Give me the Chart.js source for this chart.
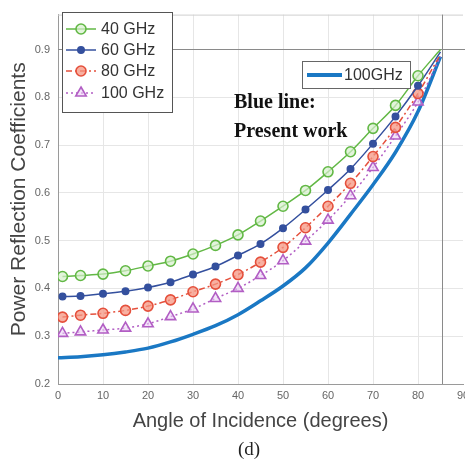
<!DOCTYPE html>
<html>
<head>
<meta charset="utf-8">
<script src="https://cdn.jsdelivr.net/npm/chart.js@4.4.0/dist/chart.umd.min.js"></script>
<style>
  html, body { margin: 0; padding: 0; background: #fff; overflow: hidden; }
  #wrap { width: 480px; height: 464px; }
</style>
</head>
<body>
<div id="wrap"><canvas id="chart" width="480" height="464"></canvas></div>
<script>
// marker angles (degrees) for the simulated curves
const angles = [1, 5, 10, 15, 20, 25, 30, 35, 40, 45, 50, 55, 60, 65, 70, 75, 80, 85];
const ghz40 = [0.425, 0.427, 0.430, 0.437, 0.447, 0.457, 0.472, 0.490, 0.512, 0.541, 0.572, 0.605, 0.644, 0.686, 0.735, 0.783, 0.845, 0.900];
const ghz60 = [0.383, 0.384, 0.389, 0.394, 0.402, 0.413, 0.429, 0.446, 0.469, 0.493, 0.526, 0.565, 0.606, 0.650, 0.703, 0.760, 0.824, 0.895];
const ghz80 = [0.340, 0.344, 0.348, 0.354, 0.363, 0.376, 0.393, 0.409, 0.429, 0.455, 0.486, 0.527, 0.572, 0.620, 0.676, 0.737, 0.808, 0.890];
const ghz100 = [0.306, 0.309, 0.313, 0.317, 0.326, 0.341, 0.357, 0.379, 0.400, 0.427, 0.458, 0.499, 0.543, 0.594, 0.653, 0.719, 0.790, 0.885];

// present work, 100 GHz
const presentAngles = [0, 5, 10, 15, 20, 25, 30, 35, 40, 45, 50, 55, 60, 65, 70, 75, 80, 85];
const presentWork = [0.255, 0.257, 0.261, 0.267, 0.275, 0.288, 0.304, 0.322, 0.345, 0.374, 0.405, 0.443, 0.495, 0.555, 0.617, 0.685, 0.770, 0.885];

const xTicks = [0, 10, 20, 30, 40, 50, 60, 70, 80, 90];
const yTicks = [0.2, 0.3, 0.4, 0.5, 0.6, 0.7, 0.8, 0.9];

const series = [
    { label: '40 GHz', data: ghz40, color: '#62b845', fill: 'rgba(215,240,205,0.7)', style: 'circle', radius: 5, dash: [] },
    { label: '60 GHz', data: ghz60, color: '#34509e', fill: '#34509e', style: 'circle', radius: 3.2, dash: [] },
    { label: '80 GHz', data: ghz80, color: '#e5503c', fill: 'rgba(245,150,130,0.75)', style: 'circle', radius: 5, dash: [6, 3, 2, 3] },
    { label: '100 GHz', data: ghz100, color: '#b25ec4', fill: 'rgba(235,210,245,0.6)', style: 'triangle', radius: 6, dash: [2, 3] }
];

const datasets = series.map(s => ({
    label: s.label,
    data: angles.map((a, i) => ({ x: a, y: s.data[i] })),
    borderColor: s.color,
    backgroundColor: s.fill,
    borderWidth: 1.5,
    borderDash: s.dash,
    pointStyle: s.style,
    // the last point only ends the line, no marker there
    pointRadius: angles.map((a, i) => i === angles.length - 1 ? 0 : s.radius),
    pointBorderColor: s.color,
    pointBackgroundColor: s.fill,
    pointBorderWidth: 1.6,
    cubicInterpolationMode: 'monotone'
}));

datasets.push({
    label: '100GHz',
    data: presentAngles.map((a, i) => ({ x: a, y: presentWork[i] })),
    borderColor: '#1a78c4',
    borderWidth: 3.5,
    pointRadius: 0,
    cubicInterpolationMode: 'monotone'
});

function marker(ctx, style, x, y, r) {
    ctx.beginPath();
    if (style === 'triangle') {
        ctx.moveTo(x, y - r);
        ctx.lineTo(x + r * 0.87, y + r * 0.5);
        ctx.lineTo(x - r * 0.87, y + r * 0.5);
        ctx.closePath();
    } else {
        ctx.arc(x, y, r, 0, Math.PI * 2);
    }
    ctx.fill();
    ctx.stroke();
}

const extras = {
    id: 'extras',
    beforeDatasetsDraw(chart) {
        const { ctx, chartArea: a, scales: { x, y } } = chart;
        ctx.save();
        ctx.lineWidth = 1;
        ctx.strokeStyle = '#cfcfcf';
        ctx.beginPath();
        ctx.moveTo(a.left, a.top + 0.5);
        ctx.lineTo(a.right, a.top + 0.5);
        ctx.stroke();
        // darker frame lines at 0.9 and ~85 degrees
        ctx.strokeStyle = '#8a8a8a';
        const y9 = Math.round(y.getPixelForValue(0.9)) + 0.5;
        ctx.beginPath();
        ctx.moveTo(a.left, y9);
        ctx.lineTo(a.right + 20, y9);
        ctx.stroke();
        const x85 = Math.round(x.getPixelForValue(85.3)) + 0.5;
        ctx.beginPath();
        ctx.moveTo(x85, a.top);
        ctx.lineTo(x85, a.bottom);
        ctx.stroke();
        ctx.restore();
    },
    afterDraw(chart) {
        const ctx = chart.ctx;
        ctx.save();

        // left legend
        ctx.fillStyle = '#fff';
        ctx.fillRect(62, 12, 110, 100);
        ctx.strokeStyle = '#555';
        ctx.lineWidth = 1;
        ctx.strokeRect(62.5, 12.5, 110, 100);
        const rows = [29, 50, 71, 93];
        series.forEach((s, i) => {
            const yy = rows[i];
            ctx.strokeStyle = s.color;
            ctx.lineWidth = 1.5;
            ctx.setLineDash(s.dash);
            ctx.beginPath();
            ctx.moveTo(66, yy);
            ctx.lineTo(96, yy);
            ctx.stroke();
            ctx.setLineDash([]);
            ctx.fillStyle = s.fill;
            ctx.lineWidth = 1.6;
            marker(ctx, s.style, 81, yy, s.radius);
            ctx.fillStyle = '#333';
            ctx.font = '16px "Liberation Sans", Arial, sans-serif';
            ctx.textBaseline = 'middle';
            ctx.textAlign = 'left';
            ctx.fillText(s.label, 101, yy + 1);
        });

        // right legend
        ctx.fillStyle = '#fff';
        ctx.fillRect(302, 61, 108, 27);
        ctx.strokeStyle = '#666';
        ctx.lineWidth = 1;
        ctx.strokeRect(302.5, 61.5, 108, 27);
        ctx.strokeStyle = '#1a78c4';
        ctx.lineWidth = 4;
        ctx.beginPath();
        ctx.moveTo(307, 75);
        ctx.lineTo(342, 75);
        ctx.stroke();
        ctx.fillStyle = '#333';
        ctx.fillText('100GHz', 344, 76);

        // annotation
        ctx.fillStyle = '#111';
        ctx.font = 'bold 20px "Liberation Serif", "Times New Roman", serif';
        ctx.textBaseline = 'alphabetic';
        ctx.fillText('Blue line:', 234, 108);
        ctx.fillText('Present work', 234, 137);

        // panel label
        ctx.font = '19px "Liberation Serif", "Times New Roman", serif';
        ctx.textAlign = 'center';
        ctx.textBaseline = 'middle';
        ctx.fillStyle = '#222';
        ctx.fillText('(d)', 249, 450);
        ctx.restore();
    }
};

new Chart(document.getElementById('chart'), {
    type: 'line',
    data: { datasets },
    plugins: [extras],
    options: {
        responsive: false,
        animation: false,
        layout: { padding: { top: 10, right: 17, left: 0, bottom: 0 } },
        plugins: { legend: { display: false }, tooltip: { enabled: false } },
        scales: {
            x: {
                type: 'linear',
                min: 0,
                max: 90,
                afterBuildTicks: scale => { scale.ticks = xTicks.map(v => ({ value: v })); },
                afterFit: scale => { scale.height = 80; },
                grid: {
                    drawTicks: false,
                    color: c => (c.tick && c.tick.value === 90) ? 'rgba(0,0,0,0)' : '#e6e6e6'
                },
                border: { color: '#9a9a9a' },
                ticks: {
                    padding: 5,
                    color: '#666',
                    font: { family: '"Liberation Sans", Arial, sans-serif', size: 11 },
                    maxRotation: 0
                },
                title: {
                    display: true,
                    text: 'Angle of Incidence (degrees)',
                    color: '#444',
                    font: { family: '"Liberation Sans", Arial, sans-serif', size: 20 },
                    padding: { top: 0, bottom: 31 }
                }
            },
            y: {
                min: 0.2,
                max: 0.973,
                afterBuildTicks: scale => { scale.ticks = yTicks.map(v => ({ value: v })); },
                afterFit: scale => { scale.width = 58; },
                grid: { drawTicks: false, color: '#e6e6e6' },
                border: { color: '#9a9a9a' },
                ticks: {
                    padding: 8,
                    color: '#666',
                    font: { family: '"Liberation Sans", Arial, sans-serif', size: 11 },
                    callback: v => v.toFixed(1)
                },
                title: {
                    display: true,
                    text: 'Power Reflection Coefficients',
                    color: '#444',
                    font: { family: '"Liberation Sans", Arial, sans-serif', size: 21 },
                    padding: { top: 7, bottom: 0 }
                }
            }
        }
    }
});
</script>
</body>
</html>
